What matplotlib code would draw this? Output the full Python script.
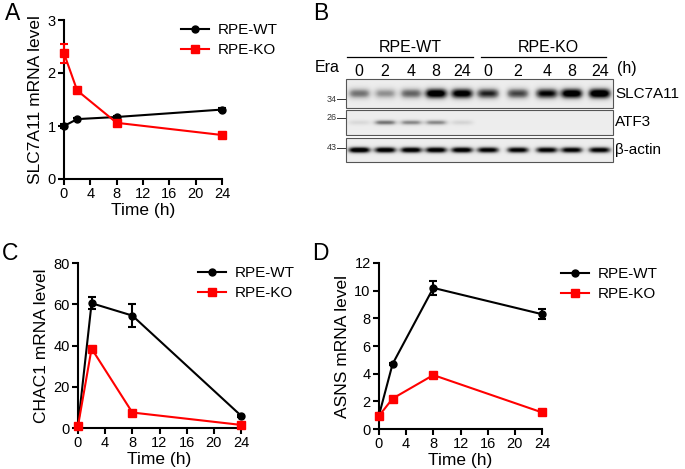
import numpy as np
import matplotlib.pyplot as plt
from matplotlib.lines import Line2D

plt.rcParams['font.family'] = ['Liberation Sans', 'DejaVu Sans']

# time points (h)
time = [0, 2, 8, 24]

# A: SLC7A11 mRNA level
slc_wt = [1.0, 1.13, 1.17, 1.31]
slc_wt_err = [0.03, 0.03, 0.02, 0.03]
slc_ko = [2.37, 1.67, 1.06, 0.83]
slc_ko_err = [0.18, 0.03, 0.04, 0.03]

# C: CHAC1 mRNA level
chac_wt = [1.0, 60.5, 54.5, 6.0]
chac_wt_err = [0.3, 3.0, 5.5, 0.5]
chac_ko = [1.0, 38.5, 7.5, 1.5]
chac_ko_err = [0.3, 1.0, 0.8, 0.3]

# D: ASNS mRNA level
asns_wt = [1.0, 4.7, 10.2, 8.3]
asns_wt_err = [0.05, 0.1, 0.5, 0.35]
asns_ko = [0.95, 2.2, 3.9, 1.2]
asns_ko_err = [0.05, 0.1, 0.1, 0.05]

# B: western blot (lane labels and band intensities 0..1)
lanes = ['0', '2', '4', '8', '24', '0', '2', '4', '8', '24']
band_slc7a11 = [0.45, 0.35, 0.5, 0.95, 0.9, 0.7, 0.6, 0.8, 0.95, 1.0]
band_atf3 = [0.1, 0.45, 0.38, 0.38, 0.12, 0.0, 0.0, 0.0, 0.0, 0.0]
band_actin = [0.95, 0.9, 0.9, 0.9, 0.9, 0.85, 0.85, 0.85, 0.85, 0.85]
blot_rows = ['SLC7A11', 'ATF3', '\u03b2-actin']
mw_markers = ['34', '26', '43']

W, H = 685, 469
fig = plt.figure(figsize=(W / 100, H / 100), dpi=100)


def ax_px(left, top, right, bottom):
    return fig.add_axes([left / W, 1 - bottom / H, (right - left) / W, (bottom - top) / H])


def style_ax(ax, ylim, yticks, ylabel):
    ax.set_xlim(0, 24)
    ax.set_ylim(*ylim)
    ax.set_xticks([0, 4, 8, 12, 16, 20, 24])
    ax.set_yticks(yticks)
    for s in ['top', 'right']:
        ax.spines[s].set_visible(False)
    for s in ['left', 'bottom']:
        ax.spines[s].set_linewidth(1.5)
    ax.tick_params(direction='out', length=4, width=1.5, labelsize=10.5, pad=2)
    ax.set_xlabel('Time (h)', fontsize=12.5, labelpad=1)
    ax.set_ylabel(ylabel, fontsize=12.5, labelpad=3)


def plot_pair(ax, wt, wt_err, ko, ko_err):
    ax.errorbar(time, wt, yerr=wt_err, color='black', marker='o', markersize=5,
                lw=1.5, capsize=3, elinewidth=1.5, capthick=1.5, clip_on=False, zorder=3)
    ax.errorbar(time, ko, yerr=ko_err, color='#ff0000', marker='s', markersize=6,
                lw=1.5, capsize=3, elinewidth=1.5, capthick=1.5, clip_on=False, zorder=4)


def add_legend(ax, x, y):
    handles = [Line2D([], [], color='black', marker='o', markersize=5, lw=1.5),
               Line2D([], [], color='#ff0000', marker='s', markersize=6, lw=1.5)]
    ax.legend(handles, ['RPE-WT', 'RPE-KO'], loc='upper left', bbox_to_anchor=(x / W, 1 - y / H),
              bbox_transform=fig.transFigure, frameon=False, fontsize=11, handlelength=1.8,
              handletextpad=0.6, borderpad=0, borderaxespad=0, labelspacing=0.4)


# panel A
axA = ax_px(64, 20, 222, 179)
plot_pair(axA, slc_wt, slc_wt_err, slc_ko, slc_ko_err)
style_ax(axA, (0, 3), [0, 1, 2, 3], 'SLC7A11 mRNA level')
add_legend(axA, 181, 23)

# panel C
axC = ax_px(78, 263, 241, 428)
plot_pair(axC, chac_wt, chac_wt_err, chac_ko, chac_ko_err)
style_ax(axC, (0, 80), [0, 20, 40, 60, 80], 'CHAC1 mRNA level')
add_legend(axC, 198, 266)

# panel D
axD = ax_px(379, 263, 542, 429)
plot_pair(axD, asns_wt, asns_wt_err, asns_ko, asns_ko_err)
style_ax(axD, (0, 12), [0, 2, 4, 6, 8, 10, 12], 'ASNS mRNA level')
add_legend(axD, 561, 267)

# panel B: blot drawn in pixel space
axB = fig.add_axes([0, 0, 1, 1], zorder=-1)
axB.set_xlim(0, W)
axB.set_ylim(H, 0)
axB.axis('off')

lane_x = [359, 385, 411, 436, 462, 488, 518, 547, 572, 600]
blot_left, blot_right = 346, 613
strips = [(79, 108, band_slc7a11, 5.0), (110, 135, band_atf3, 2.5), (138, 162, band_actin, 3.0)]
cmap = plt.get_cmap('Greys')
for (top, bot, bands, bw_y), name in zip(strips, blot_rows):
    xs = np.linspace(blot_left, blot_right, 300)
    ys = np.linspace(top, bot, 60)
    X, Y = np.meshgrid(xs, ys)
    img = np.full(X.shape, 0.14)
    yc = (top + bot) / 2
    for lx, val in zip(lane_x, bands):
        img += 1.1 * val * np.exp(-((X - lx) / 11.0) ** 4) * np.exp(-((Y - yc) / bw_y) ** 2)
    axB.imshow(np.clip(img, 0, 1), cmap=cmap, vmin=0, vmax=1.0, extent=(blot_left, blot_right, bot, top),
               aspect='auto', interpolation='bilinear')
    axB.add_patch(plt.Rectangle((blot_left, top), blot_right - blot_left, bot - top,
                                fill=False, ec='#555555', lw=0.8))
    axB.text(blot_right + 2, yc, name, fontsize=11, va='center', ha='left')

# molecular weight markers
for label, y in zip(mw_markers, [99, 118, 148]):
    axB.text(337, y, label, fontsize=6.5, ha='right', va='center', color='#333333')
    axB.plot([337, 345], [y, y], color='#333333', lw=0.7)

for lx, lab in zip(lane_x, lanes):
    axB.text(lx, 71, lab, fontsize=11.5, ha='center', va='center')
axB.text(617, 69, '(h)', fontsize=11.5, ha='left', va='center')
axB.text(327, 67, 'Era', fontsize=11.5, ha='center', va='center')

axB.plot([347, 473], [57, 57], color='black', lw=0.9)
axB.plot([481, 606], [57, 57], color='black', lw=0.9)
axB.text(410, 48, 'RPE-WT', fontsize=11.5, ha='center', va='center')
axB.text(548, 48, 'RPE-KO', fontsize=11.5, ha='center', va='center')

# panel letters
axB.text(5, 14, 'A', fontsize=16.5, ha='left', va='center')
axB.text(313, 14, 'B', fontsize=16.5, ha='left', va='center')
axB.text(2, 254, 'C', fontsize=16.5, ha='left', va='center')
axB.text(312, 254, 'D', fontsize=16.5, ha='left', va='center')

fig.savefig('out.png', dpi=100)
